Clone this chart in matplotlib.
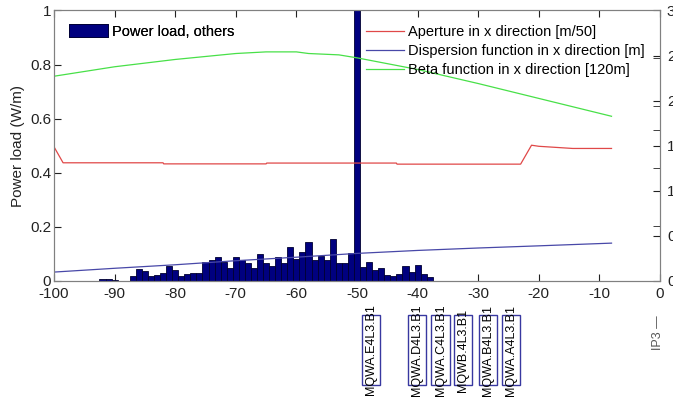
import matplotlib
matplotlib.use("Agg")
import matplotlib.pyplot as plt
import matplotlib.patches as mpatches
from matplotlib.transforms import blended_transform_factory

plt.rcParams['font.family'] = ['Liberation Sans', 'DejaVu Sans']
plt.rcParams['axes.unicode_minus'] = False

# power load per metre, one bar per metre of s
bar_pos = list(range(-92, -37))
bar_load = [0.007, 0.007, 0.004, 0.0, 0.0, 0.018, 0.043, 0.038, 0.018, 0.021,
            0.028, 0.055, 0.040, 0.018, 0.026, 0.031, 0.031, 0.070, 0.078, 0.087,
            0.071, 0.049, 0.090, 0.078, 0.068, 0.049, 0.099, 0.065, 0.055, 0.090,
            0.065, 0.127, 0.080, 0.108, 0.145, 0.078, 0.092, 0.078, 0.157, 0.065,
            0.065, 0.105, 1.200, 0.053, 0.071, 0.040, 0.049, 0.021, 0.018, 0.026,
            0.055, 0.035, 0.059, 0.026, 0.013]

# optics, already scaled to the left axis
ap_s = [-100, -98.5, -82, -81.9, -65, -64.9, -43.5, -43.4, -23, -21.2, -20, -14.4, -8]
ap_x = [0.496, 0.437, 0.437, 0.433, 0.433, 0.436, 0.436, 0.432, 0.432, 0.502, 0.498, 0.490, 0.490]

disp_s = [-100, -90, -80, -70, -60, -50, -40, -30, -20, -8]
disp_x = [0.033, 0.047, 0.060, 0.075, 0.088, 0.102, 0.113, 0.122, 0.130, 0.140]

beta_s = [-100, -90, -80, -70, -65, -60, -58, -53, -50, -40, -30, -20, -8]
beta_x = [0.757, 0.792, 0.819, 0.841, 0.847, 0.847, 0.841, 0.836, 0.825, 0.782, 0.730, 0.675, 0.609]

magnets = ['MQWA.E4L3.B1', 'MQWA.D4L3.B1', 'MQWA.C4L3.B1', 'MQWB.4L3.B1', 'MQWA.B4L3.B1', 'MQWA.A4L3.B1']
magnet_s = [-47.7, -40.1, -36.2, -32.5, -28.4, -24.6]

right_ticks = [0, 0.5, 1, 1.5, 2, 2.5, 3]
right_labels = ['0', '0.5', '1', '1.5', '2', '2.5', '3']
right_extra = [0.61, 1.25, 1.67, 1.94, 2.47]

fig = plt.figure(figsize=(6.73, 4.04), dpi=100)
ax = fig.add_axes([54 / 673, 1 - 281 / 404, 606 / 673, 270.5 / 404])

gray = '#808080'
ax.bar(bar_pos, bar_load, width=1.0, color='#00007f', edgecolor='#000030', linewidth=0.6,
       label='Power load, others', zorder=2)
l1, = ax.plot(ap_s, ap_x, color='#e04848', lw=0.9, zorder=3)
l2, = ax.plot(disp_s, disp_x, color='#4848a8', lw=0.9, zorder=3)
l3, = ax.plot(beta_s, beta_x, color='#48e048', lw=0.9, zorder=3)

ax.set_xlim(-100, 0)
ax.set_ylim(0, 1)
ax.set_xticks(range(-100, 1, 10))
ax.set_yticks([0, 0.2, 0.4, 0.6, 0.8, 1])
ax.set_yticklabels(['0', '0.2', '0.4', '0.6', '0.8', '1'])
ax.tick_params(direction='in', top=True, length=5, labelsize=11, colors='#222222')
ax.tick_params(axis='x', pad=4)
ax.tick_params(axis='y', pad=2)
for sp in ax.spines.values():
    sp.set_color(gray)
ax.set_ylabel('Power load (W/m)', fontsize=11, color='#222222', labelpad=4)

ax2 = ax.twinx()
ax2.set_ylim(0, 3)
ax2.set_yticks(right_ticks)
ax2.set_yticklabels(right_labels)
ax2.set_yticks(right_extra, minor=True)
ax2.tick_params(which='both', direction='in', length=5, labelsize=11, colors='#222222', pad=5)
for sp in ax2.spines.values():
    sp.set_color(gray)

leg1 = ax.legend(loc='upper left', bbox_to_anchor=(0.024, 0.95), frameon=False, fontsize=10.5,
                 handlelength=2.7, handleheight=1.0, handletextpad=0.25, borderaxespad=0, borderpad=0)
ax.add_artist(leg1)
ax2.legend([l1, l2, l3], ['Aperture in x direction [m/50]', 'Dispersion function in x direction [m]',
                          'Beta function in x direction [120m]'],
           loc='upper left', bbox_to_anchor=(0.515, 0.945), frameon=False, fontsize=10.5,
           handlelength=2.6, handletextpad=0.3, labelspacing=0.33, borderaxespad=0, borderpad=0)

tr = blended_transform_factory(ax.transData, fig.transFigure)
yc = 1 - 350 / 404
for name, s in zip(magnets, magnet_s):
    ax.add_patch(mpatches.Rectangle((s - 1.55, yc - 35 / 404), 3.1, 70 / 404, transform=tr,
                                    fill=False, edgecolor='#3838a0', lw=1, clip_on=False))
    ax.text(s, yc, name, transform=tr, rotation=90, ha='center', va='center', fontsize=9,
            color='black', clip_on=False)
ax.text(-0.4, 1 - 350 / 404, 'IP3 \u2014', transform=tr, rotation=90, ha='center', va='bottom',
        fontsize=9, color='#555555', clip_on=False)

fig.savefig('out.png', dpi=100)
